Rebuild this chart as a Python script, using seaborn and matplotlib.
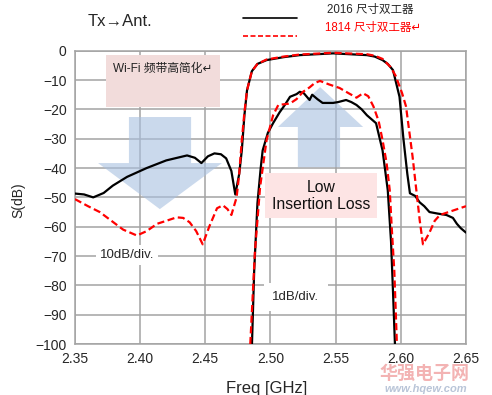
import matplotlib
matplotlib.use("Agg")
import matplotlib.pyplot as plt
from matplotlib.patches import Polygon, Rectangle
from matplotlib.lines import Line2D
import seaborn as sns

# wideband response (10dB/div), 2016 size duplexer
black_wide_f = [2.350, 2.357, 2.364, 2.372, 2.379, 2.390, 2.405, 2.420, 2.436, 2.442,
                2.447, 2.452, 2.457, 2.462, 2.466, 2.470, 2.473, 2.476, 2.478, 2.480,
                2.482, 2.4857, 2.490, 2.497, 2.510, 2.5225, 2.548, 2.574, 2.580, 2.586,
                2.590, 2.594, 2.599, 2.602, 2.605, 2.607, 2.611, 2.6145, 2.618, 2.622,
                2.628, 2.635, 2.640, 2.643, 2.646, 2.650]
black_wide_db = [-48.7, -49.0, -50.0, -48.5, -46.0, -43.0, -40.0, -37.4, -35.7, -36.5,
                 -38.3, -36.0, -35.0, -35.3, -36.7, -41.0, -49.0, -42.0, -34.0, -22.0,
                 -13.5, -7.0, -4.5, -3.2, -2.2, -1.5, -0.9, -1.5, -2.0, -3.2,
                 -4.5, -6.6, -15.7, -30.0, -42.0, -48.6, -49.5, -51.7, -53.0, -55.0,
                 -55.5, -56.0, -57.0, -59.0, -60.5, -62.0]

# wideband response (10dB/div), 1814 size duplexer
red_wide_f = [2.350, 2.360, 2.369, 2.378, 2.387, 2.3975, 2.405, 2.413, 2.420, 2.428,
              2.433, 2.438, 2.443, 2.448, 2.453, 2.459, 2.4635, 2.467, 2.470, 2.474,
              2.476, 2.478, 2.480, 2.482, 2.4857, 2.490, 2.497, 2.510, 2.5225, 2.548,
              2.574, 2.580, 2.586, 2.592, 2.596, 2.601, 2.604, 2.609, 2.6145, 2.617,
              2.622, 2.626, 2.630, 2.640, 2.650]
red_wide_db = [-50.6, -53.0, -55.0, -58.0, -61.0, -63.0, -61.5, -59.0, -58.0, -56.8,
               -57.0, -58.5, -61.5, -66.0, -60.0, -53.7, -52.7, -54.0, -56.0, -50.0,
               -42.0, -30.5, -21.0, -13.5, -7.0, -4.5, -3.0, -2.0, -1.3, -0.7,
               -1.2, -1.7, -2.8, -5.5, -8.5, -14.5, -19.0, -36.0, -57.8, -66.0,
               -62.0, -58.0, -56.0, -54.5, -53.0]

# passband detail (1dB/div)
black_pass_f = [2.4858, 2.4875, 2.490, 2.4925, 2.494, 2.498, 2.502, 2.507, 2.511, 2.515,
                2.520, 2.5225, 2.5256, 2.530, 2.532, 2.536, 2.540, 2.548, 2.552, 2.558,
                2.562, 2.566, 2.570, 2.574, 2.581, 2.586, 2.590, 2.5925, 2.594, 2.5955]
black_pass_db = [-100, -75, -52, -40, -34, -28, -24.7, -21, -18.5, -15.7,
                 -14.8, -14.0, -14.5, -16.8, -15.0, -16.5, -17.8, -17.8, -17.5, -16.8,
                 -17.5, -18.5, -20.0, -22.0, -24.7, -34.0, -47.6, -65, -82, -100]

red_pass_f = [2.4845, 2.488, 2.492, 2.497, 2.502, 2.506, 2.515, 2.520, 2.525, 2.530,
              2.534, 2.538, 2.545, 2.553, 2.560, 2.566, 2.571, 2.575, 2.579, 2.583,
              2.586, 2.589, 2.5915, 2.593, 2.595, 2.597]
red_pass_db = [-100, -69, -46.6, -30.5, -22.0, -18.5, -18.0, -16.5, -14.0, -12.5,
               -11.0, -10.3, -11.5, -12.7, -14.5, -16.0, -14.5, -15.5, -19.0, -24.0,
               -30.5, -38.0, -47.5, -60.0, -75.0, -100]

x_ticks = [2.35, 2.40, 2.45, 2.50, 2.55, 2.60, 2.65]
y_ticks = [0, -10, -20, -30, -40, -50, -60, -70, -80, -90, -100]

sns.set_style("white")
plt.rcParams["font.family"] = ["Liberation Sans", "Noto Sans CJK SC", "DejaVu Sans"]
plt.rcParams["axes.unicode_minus"] = True

fig = plt.figure(figsize=(4.92, 3.95), dpi=100)
ax = fig.add_axes([0.1524, 0.129, 0.7947, 0.7426])

grid_c = "#a3a3a3"
ax.set_xlim(2.35, 2.65)
ax.set_ylim(-100, 0)
ax.set_xticks(x_ticks)
ax.set_yticks(y_ticks)
ax.set_xticklabels([f"{t:.2f}" for t in x_ticks], fontsize=10)
ax.set_yticklabels([str(t).replace("-", "\u2212") for t in y_ticks], fontsize=10)
ax.tick_params(length=0, pad=6)
ax.grid(True, color=grid_c, linewidth=1.1)
ax.set_axisbelow(True)
for s in ax.spines.values():
    s.set_color(grid_c)
    s.set_linewidth(1.1)

# pink boxes (hide grid under them)
ax.add_patch(Rectangle((0.079, 0.808), 0.292, 0.177, transform=ax.transAxes,
                       facecolor="#f2dcdb", edgecolor="none", zorder=1.5))
ax.add_patch(Rectangle((0.486, 0.430), 0.286, 0.153, transform=ax.transAxes,
                       facecolor="#fde4e4", edgecolor="none", zorder=1.5))

# arrows
arrow_c = "#a8c0e0"
down = [(0.138, 0.774), (0.297, 0.774), (0.297, 0.617), (0.376, 0.617),
        (0.217, 0.460), (0.059, 0.617), (0.138, 0.617)]
up = [(0.570, 0.603), (0.678, 0.603), (0.678, 0.740), (0.737, 0.740),
      (0.627, 0.876), (0.519, 0.740), (0.570, 0.740)]
for pts in (down, up):
    ax.add_patch(Polygon(pts, closed=True, transform=ax.transAxes,
                         facecolor=arrow_c, edgecolor="none", alpha=0.6, zorder=1.6))

# curves
lw = 1.6
dash = (0, (3.2, 1.6))
sns.lineplot(x=black_wide_f, y=black_wide_db, ax=ax, color="black", lw=lw, sort=False, zorder=3)
sns.lineplot(x=black_pass_f, y=black_pass_db, ax=ax, color="black", lw=lw, sort=False, zorder=3)
sns.lineplot(x=red_wide_f, y=red_wide_db, ax=ax, color="#ff0000", lw=lw, sort=False,
             linestyle=dash, zorder=4)
sns.lineplot(x=red_pass_f, y=red_pass_db, ax=ax, color="#ff0000", lw=lw, sort=False,
             linestyle=dash, zorder=4)
ax.set_xlabel("")
ax.set_ylabel("")

# annotations inside the plot
ax.text(0.225, 0.938, "Wi-Fi 频带高简化\u21b5", transform=ax.transAxes, fontsize=8.5,
        ha="center", va="center", color="#222222", zorder=5)
ax.text(0.629, 0.505, "Low\nInsertion Loss", transform=ax.transAxes, fontsize=11.3,
        ha="center", va="center", linespacing=1.1, color="#111111", zorder=5)
ax.text(0.133, 0.303, "10dB/div.", transform=ax.transAxes, fontsize=9.5,
        ha="center", va="center", zorder=5,
        bbox=dict(facecolor="white", edgecolor="none", pad=3))
ax.text(0.565, 0.160, "1dB/div.", transform=ax.transAxes, fontsize=9.5,
        ha="center", va="center", zorder=5,
        bbox=dict(facecolor="white", edgecolor="none", pad=6))

# figure level text
fig.text(88 / 492, 1 - 22 / 395, "Tx\u2192Ant.", fontsize=12, ha="left", va="center")
fig.text(18 / 492, 1 - 200 / 395, "S(dB)", fontsize=10, rotation=90, ha="center", va="center")
fig.text(267 / 492, 1 - 389 / 395, "Freq [GHz]", fontsize=12, ha="center", va="center")

# legend drawn above the plot
fig.add_artist(Line2D([243 / 492, 297 / 492], [1 - 18 / 395, 1 - 18 / 395],
                      color="black", lw=1.2))
fig.add_artist(Line2D([243 / 492, 297 / 492], [1 - 36 / 395, 1 - 36 / 395],
                      color="#ff0000", lw=1.2, linestyle=(0, (3, 1.5))))
fig.text(327 / 492, 1 - 10 / 395, "2016 尺寸双工器", fontsize=8.3, ha="left", va="center")
fig.text(325 / 492, 1 - 28 / 395, "1814 尺寸双工器\u21b5", fontsize=8.3, ha="left",
         va="center", color="#ff0000")

# watermark (kept just below the tick labels)
fig.text(425 / 492, 1 - 374 / 395, "华强电子网", fontsize=13, ha="center", va="center",
         color="#f3b3b3", weight="bold")
fig.text(426 / 492, 1 - 389 / 395, "www.hqew.com", fontsize=8, ha="center", va="center",
         color="#b9c5d8", weight="bold", style="italic")

fig.savefig("out.png", dpi=100)
